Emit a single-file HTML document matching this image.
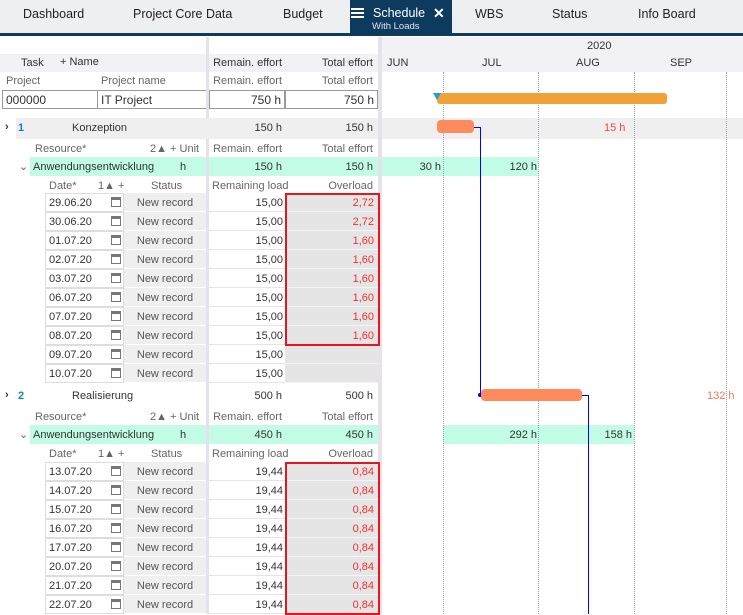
<!DOCTYPE html>
<html><head><meta charset="utf-8"><style>
*{margin:0;padding:0;box-sizing:border-box}
body{width:743px;height:614px;overflow:hidden;background:#fff;font-family:"Liberation Sans",sans-serif;font-size:11px;color:#333;position:relative}
.a{position:absolute;white-space:nowrap}
.r{text-align:right}
.c{text-align:center}
.tab{position:absolute;top:0;height:32px;line-height:28px;font-size:12.5px;color:#222}
.g{color:#666}
.vl{position:absolute;top:38px;bottom:0;width:0;border-left:1px dotted #9aa2b8}
</style></head><body>
<div class="a" style="left:0;top:0;width:743px;height:33px;background:#eeeff1"></div>
<div class="a" style="left:0;top:33px;width:743px;height:3px;background:#0d3b5e"></div>
<div class="a" style="left:350px;top:0;width:102px;height:34px;background:#0d3b5e"></div>
<div class="tab" style="left:23px">Dashboard</div>
<div class="tab" style="left:133px">Project Core Data</div>
<div class="tab" style="left:283px">Budget</div>
<div class="a" style="left:351px;top:8px;width:13px;height:2px;background:#fff;box-shadow:0 4px 0 #fff,0 8px 0 #fff"></div>
<div class="a" style="left:373px;top:6px;color:#fff;font-size:12.5px">Schedule</div>
<div class="a" style="left:372px;top:21px;color:#dfe6ee;font-size:9.5px">With Loads</div>
<div class="a" style="left:433px;top:5px;color:#fff;font-size:14px;font-weight:bold">✕</div>
<div class="tab" style="left:475px">WBS</div>
<div class="tab" style="left:552px">Status</div>
<div class="tab" style="left:638px">Info Board</div>

<div class="a" style="left:0;top:54px;width:207px;height:18px;background:#f2f2f4"></div>
<div class="a" style="left:209px;top:54px;width:170px;height:18px;background:#f2f2f4"></div>
<div class="a" style="left:21px;top:57px">Task</div>
<div class="a" style="left:60px;top:56px">+ Name</div>
<div class="a r" style="left:209px;top:57px;width:73px">Remain. effort</div>
<div class="a r" style="left:285px;top:57px;width:88px">Total effort</div>
<div class="a g" style="left:6px;top:75px">Project</div>
<div class="a g" style="left:101px;top:75px">Project name</div>
<div class="a g r" style="left:209px;top:75px;width:73px">Remain. effort</div>
<div class="a g r" style="left:285px;top:75px;width:88px">Total effort</div>
<div class="a" style="left:2px;top:90px;width:96px;height:19px;border:1px solid #999;padding:2px 3px;font-size:12px">000000</div>
<div class="a" style="left:97px;top:90px;width:110px;height:19px;border:1px solid #999;padding:2px 3px;font-size:12px">IT Project</div>
<div class="a r" style="left:209px;top:90px;width:76px;height:19px;border:1px solid #999;padding:2px 3px;font-size:12px">750 h</div>
<div class="a r" style="left:285px;top:90px;width:93px;height:19px;border:1px solid #999;padding:2px 3px;font-size:12px">750 h</div>

<div class="a" style="left:206px;top:37px;width:3px;height:577px;background:#e6e1ea"></div>
<div class="a" style="left:378px;top:37px;width:4px;height:577px;background:#e6e1ea"></div>

<div class="a" style="left:382px;top:37px;width:361px;height:35px;background:#f2f2f4"></div>
<div class="a" style="left:587px;top:40px">2020</div>
<div class="a" style="left:387px;top:57px">JUN</div>
<div class="a" style="left:482px;top:57px">JUL</div>
<div class="a" style="left:576px;top:57px">AUG</div>
<div class="a" style="left:670px;top:57px">SEP</div>

<div class="a" style="left:16px;top:118px;width:727px;height:21px;background:#efefef"></div>
<div class="a" style="left:0;top:118px;width:16px;height:21px;background:#fff"></div>
<div class="a" style="left:378px;top:118px;width:4px;height:21px;background:#e6e1ea"></div>
<div class="a" style="left:5px;top:121px;font-weight:bold">›</div>
<div class="a" style="left:18px;top:122px;color:#1d7fc4;font-weight:bold">1</div>
<div class="a" style="left:72px;top:122px">Konzeption</div>
<div class="a r" style="left:209px;top:122px;width:73px">150 h</div>
<div class="a r" style="left:285px;top:122px;width:88px">150 h</div>
<div class="a g" style="left:35px;top:143px">Resource*</div>
<div class="a g" style="left:150px;top:143px">2▲ + Unit</div>
<div class="a g r" style="left:209px;top:143px;width:73px">Remain. effort</div>
<div class="a g r" style="left:285px;top:143px;width:88px">Total effort</div>
<div class="a" style="left:30px;top:157px;width:176px;height:19px;background:#c2fbe6"></div>
<div class="a" style="left:209px;top:157px;width:169px;height:19px;background:#c2fbe6"></div>
<div class="a" style="left:382px;top:157px;width:156px;height:19px;background:#c2fbe6"></div>
<div class="a g" style="left:19px;top:160px">⌄</div>
<div class="a" style="left:33px;top:161px">Anwendungsentwicklung</div>
<div class="a" style="left:180px;top:161px">h</div>
<div class="a r" style="left:209px;top:161px;width:73px">150 h</div>
<div class="a r" style="left:285px;top:161px;width:88px">150 h</div>
<div class="a r" style="left:400px;top:161px;width:41px">30 h</div>
<div class="a r" style="left:490px;top:161px;width:47px">120 h</div>
<div class="a g" style="left:49px;top:180px">Date*</div>
<div class="a g" style="left:98px;top:180px">1▲ +</div>
<div class="a g" style="left:151px;top:180px">Status</div>
<div class="a g" style="left:212px;top:180px">Remaining load</div>
<div class="a g r" style="left:285px;top:180px;width:88px">Overload</div>

<div class="a" style="left:5px;top:389px;font-weight:bold">›</div>
<div class="a" style="left:18px;top:390px;color:#1d7fc4;font-weight:bold">2</div>
<div class="a" style="left:72px;top:390px">Realisierung</div>
<div class="a r" style="left:209px;top:390px;width:73px">500 h</div>
<div class="a r" style="left:285px;top:390px;width:88px">500 h</div>
<div class="a g" style="left:35px;top:411px">Resource*</div>
<div class="a g" style="left:150px;top:411px">2▲ + Unit</div>
<div class="a g r" style="left:209px;top:411px;width:73px">Remain. effort</div>
<div class="a g r" style="left:285px;top:411px;width:88px">Total effort</div>
<div class="a" style="left:30px;top:425px;width:176px;height:19px;background:#c2fbe6"></div>
<div class="a" style="left:209px;top:425px;width:169px;height:19px;background:#c2fbe6"></div>
<div class="a" style="left:443px;top:425px;width:191px;height:19px;background:#c2fbe6"></div>
<div class="a g" style="left:19px;top:428px">⌄</div>
<div class="a" style="left:33px;top:429px">Anwendungsentwicklung</div>
<div class="a" style="left:180px;top:429px">h</div>
<div class="a r" style="left:209px;top:429px;width:73px">450 h</div>
<div class="a r" style="left:285px;top:429px;width:88px">450 h</div>
<div class="a r" style="left:490px;top:429px;width:47px">292 h</div>
<div class="a r" style="left:590px;top:429px;width:42px">158 h</div>
<div class="a g" style="left:49px;top:448px">Date*</div>
<div class="a g" style="left:98px;top:448px">1▲ +</div>
<div class="a g" style="left:151px;top:448px">Status</div>
<div class="a g" style="left:212px;top:448px">Remaining load</div>
<div class="a g r" style="left:285px;top:448px;width:88px">Overload</div>

<div class="vl" style="left:443px;top:72px"></div>
<div class="vl" style="left:538px;top:72px"></div>
<div class="vl" style="left:634px;top:72px"></div>
<div class="vl" style="left:726px;top:72px"></div>

<div class="a" style="left:437px;top:93px;width:230px;height:11px;background:#f2a137;border-radius:3px"></div>
<div class="a" style="left:433px;top:93px;width:0;height:0;border-left:4px solid transparent;border-right:4px solid transparent;border-top:7px solid #1e9fd8"></div>
<div class="a" style="left:437px;top:120px;width:37px;height:13px;background:#ff8a5c;border-radius:4px"></div>
<div class="a" style="left:474px;top:127px;width:7px;height:1px;background:#00f"></div>
<div class="a" style="left:480px;top:127px;width:1px;height:268px;background:#00f"></div>
<div class="a" style="left:478px;top:393px;width:4px;height:4px;border-radius:2px;background:#00f"></div>
<div class="a" style="left:604px;top:122px;color:#f04a3a">15 h</div>
<div class="a" style="left:481px;top:389px;width:101px;height:12px;background:#ff8a5c;border-radius:4px"></div>
<div class="a" style="left:582px;top:395px;width:7px;height:1px;background:#00f"></div>
<div class="a" style="left:588px;top:395px;width:1px;height:219px;background:#00f"></div>
<div class="a" style="left:707px;top:390px;color:#f07a5a">132 h</div>

<div id="rows"></div>
<script>
function rows(y0,dates,rem,ov,nred){
 let h='';
 dates.forEach((d,i)=>{
  const y=y0+i*19;
  h+=`<div class="a" style="left:45px;top:${y}px;width:79px;height:19px;border:1px solid #ddd;background:#fff;padding:3px 3px">${d}</div>`;
  h+=`<div class="a" style="left:111px;top:${y+4}px;width:10px;height:10px;border:1px solid #777;border-top:3px solid #777"></div>`;
  h+=`<div class="a c" style="left:124px;top:${y}px;width:82px;height:19px;background:#efefef;border-bottom:1px solid #fff;padding-top:4px;color:#555">New record</div>`;
  h+=`<div class="a r" style="left:209px;top:${y}px;width:76px;height:19px;border-bottom:1px solid #e4e4e4;padding:4px 2px 0 0">${rem}</div>`;
  h+=`<div class="a r" style="left:285px;top:${y}px;width:93px;height:19px;background:#e5e5e5;border-bottom:1px solid #f4f4f4;padding:4px 4px 0 0;color:#f03030">${ov[i]||''}</div>`;
 });
 h+=`<div class="a" style="left:285px;top:${y0}px;width:95px;height:${nred*19+1}px;border:2px solid #e8141e"></div>`;
 return h;
}
document.getElementById('rows').innerHTML=
 rows(193,['29.06.20','30.06.20','01.07.20','02.07.20','03.07.20','06.07.20','07.07.20','08.07.20','09.07.20','10.07.20'],'15,00',['2,72','2,72','1,60','1,60','1,60','1,60','1,60','1,60'],8)+
 rows(462,['13.07.20','14.07.20','15.07.20','16.07.20','17.07.20','20.07.20','21.07.20','22.07.20'],'19,44',['0,84','0,84','0,84','0,84','0,84','0,84','0,84','0,84'],8);
</script>
</body></html>
